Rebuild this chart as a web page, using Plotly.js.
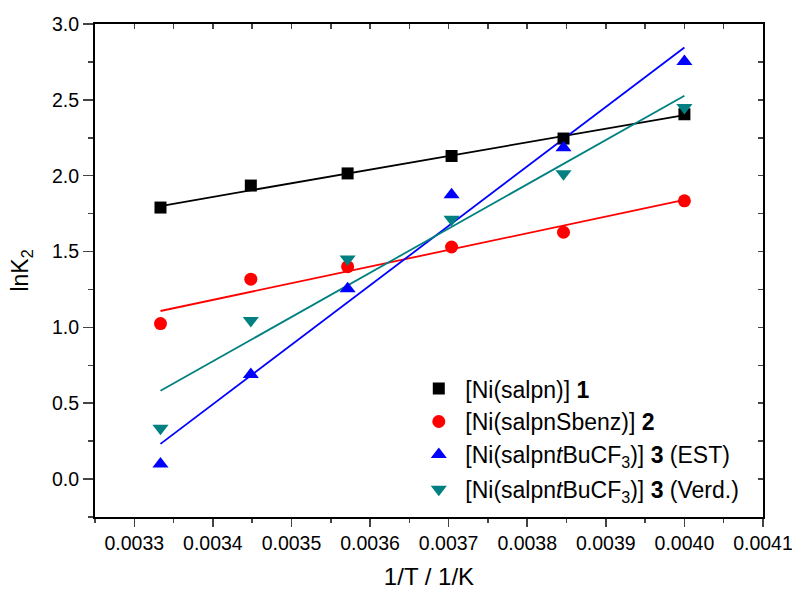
<!DOCTYPE html>
<html>
<head>
<meta charset="utf-8">
<script src="https://cdn.plot.ly/plotly-3.0.1.min.js"></script>
<style>html,body{margin:0;padding:0;background:#fff;}#chart{width:792px;height:590px;}</style>
</head>
<body>
<div id="chart"></div>
<script>
// 1/T values (1/K) for 300, 290, 280, 270, 260, 250 K
const invT = [1/300, 1/290, 1/280, 1/270, 1/260, 1/250];

const lnK_salpn = [1.79, 1.935, 2.015, 2.13, 2.245, 2.405];
const lnK_sbenz = [1.025, 1.318, 1.40, 1.53, 1.627, 1.834];
const lnK_est   = [0.10, 0.69, 1.255, 1.875, 2.185, 2.752];
const lnK_verd  = [0.335, 1.045, 1.45, 1.713, 2.012, 2.45];

// linear fit lines, endpoints
const fitX = [1/300, 1/250];
const fit_salpn = [1.80, 2.40];
const fit_sbenz = [1.108, 1.84];
const fit_est   = [0.232, 2.845];
const fit_verd  = [0.582, 2.527];

const names = [
  "[Ni(salpn)] <b>1</b>",
  "[Ni(salpnSbenz)] <b>2</b>",
  "[Ni(salpn<i>t</i>BuCF<sub>3</sub>)] <b>3</b> (EST)",
  "[Ni(salpn<i>t</i>BuCF<sub>3</sub>)] <b>3</b> (Verd.)"
];
const groups = ["a", "a", "a", "b"];
const colors = ["#000000", "#ff0000", "#0000ff", "#008080"];
const symbols = ["square", "circle", "triangle-up", "triangle-down"];
const series = [lnK_salpn, lnK_sbenz, lnK_est, lnK_verd];
const fits = [fit_salpn, fit_sbenz, fit_est, fit_verd];
const msize = [12, 13, 14, 14];

const traces = [];
for (let i = 0; i < 4; i++) {
  traces.push({
    x: fitX, y: fits[i], mode: "lines", showlegend: false,
    line: {color: colors[i], width: 1.8}, hoverinfo: "skip"
  });
}
for (let i = 0; i < 4; i++) {
  traces.push({
    x: invT, y: series[i], mode: "markers", name: names[i], legendgroup: groups[i],
    marker: {symbol: symbols[i], color: colors[i], size: msize[i], line: {width: 0}}
  });
}
// helper trace for mirror axes
traces.push({x: [0.0036], y: [1], xaxis: "x2", yaxis: "y2", mode: "markers",
  marker: {opacity: 0}, showlegend: false, hoverinfo: "skip"});

const fnt = {family: "Liberation Sans, Arial, sans-serif", color: "#000"};
const xr = [0.00325, 0.0041000001];

const layout = {
  width: 792, height: 590,
  margin: {l: 95, r: 29, t: 24, b: 73},
  paper_bgcolor: "#fff", plot_bgcolor: "#fff",
  font: Object.assign({size: 19}, fnt),
  showlegend: true,
  legend: {
    x: 0.475, y: 0.304, xanchor: "left", yanchor: "top",
    bgcolor: "rgba(0,0,0,0)", font: Object.assign({size: 23}, fnt),
    tracegroupgap: 2, itemwidth: 43, traceorder: "grouped"
  },
  xaxis: {
    range: xr, dtick: 0.0001, tick0: 0.0033,
    tickformat: ".4f", ticks: "outside", ticklen: 8, tickwidth: 1.5,
    ticklabeloverflow: "allow",
    showline: true, linewidth: 2, linecolor: "#000", showgrid: false, zeroline: false,
    tickfont: Object.assign({size: 19.5}, fnt),
    minor: {ticks: "outside", ticklen: 4, tickwidth: 1.5, dtick: 0.00005, tick0: 0.00325, showgrid: false},
    title: {text: "1/T / 1/K", font: Object.assign({size: 24}, fnt), standoff: 15}
  },
  yaxis: {
    range: [-0.25, 3.0], dtick: 0.5, tick0: 0,
    tickformat: ".1f", ticks: "outside", ticklen: 10, tickwidth: 1.5,
    showline: true, linewidth: 2, linecolor: "#000", showgrid: false, zeroline: false,
    tickfont: Object.assign({size: 19.5}, fnt),
    minor: {ticks: "outside", ticklen: 5, tickwidth: 1.5, dtick: 0.25, tick0: 0, showgrid: false},
    title: {text: "lnK<sub>2</sub>", font: Object.assign({size: 23}, fnt), standoff: 17}
  },
  xaxis2: {
    overlaying: "x", side: "top", range: xr, dtick: 0.00005, tick0: 0.00325,
    ticks: "inside", ticklen: 5, tickwidth: 1.5, showticklabels: false,
    showline: true, linewidth: 2, linecolor: "#000", showgrid: false, zeroline: false
  },
  yaxis2: {
    overlaying: "y", side: "right", range: [-0.25, 3.0], dtick: 0.25, tick0: 0,
    ticks: "inside", ticklen: 5, tickwidth: 1.5, showticklabels: false,
    showline: true, linewidth: 2, linecolor: "#000", showgrid: false, zeroline: false
  }
};

Plotly.newPlot("chart", traces, layout, {displayModeBar: false, staticPlot: true});
</script>
</body>
</html>
